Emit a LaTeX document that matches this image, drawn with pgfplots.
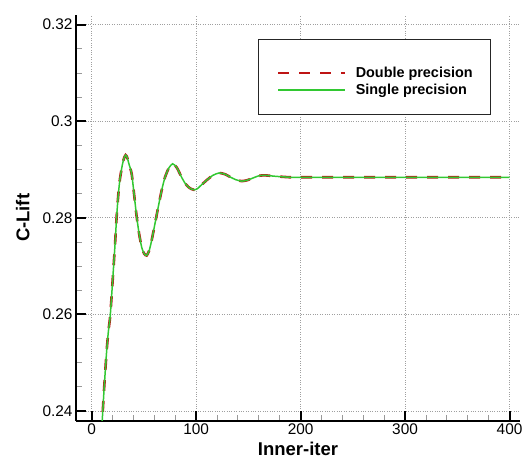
\documentclass[border=0pt]{standalone}
\usepackage{pgfplots}
\pgfplotsset{compat=1.18}
\usepackage{pgfplotstable}
\usepackage{fontspec}
\setmainfont{Liberation Sans}
\definecolor{dblred}{RGB}{190,20,20}
\definecolor{sglgreen}{RGB}{50,200,50}

\pgfplotstableread{
x y
9.0 0.2355
10.1 0.2381
12.1 0.2453
14.4 0.2526
16.0 0.2565
17.8 0.2598
20.1 0.2671
22.3 0.2743
23.9 0.2802
25.5 0.2848
27.1 0.2881
29.3 0.2909
30.9 0.2923
32.5 0.2930
34.0 0.2925
35.5 0.2913
38.3 0.2891
40.7 0.2847
43.1 0.2802
45.5 0.2766
47.9 0.2739
50.2 0.2726
52.6 0.2722
55.0 0.2732
57.4 0.2753
60.5 0.2787
63.7 0.2822
67.0 0.2857
70.2 0.2884
73.8 0.2903
77.5 0.2912
81.5 0.2904
86.1 0.2884
89.3 0.2872
92.5 0.2864
95.2 0.2860
97.9 0.2858
101.0 0.2860
104.0 0.2866
110.1 0.2878
116.0 0.2888
122.1 0.2893
128.0 0.2890
133.0 0.2884
138.0 0.2879
143.6 0.2876
149.0 0.2878
155.0 0.2883
160.0 0.2887
165.9 0.2888
176.0 0.2886
190.0 0.2884
200.0 0.2884
250.0 0.2884
300.0 0.2884
350.0 0.2884
400.0 0.2884
}\dbldata

\pgfplotstableread{
x y
9.0 0.2355
10.1 0.2381
12.1 0.2453
14.4 0.2526
16.0 0.2565
17.8 0.2598
20.1 0.2671
22.3 0.2743
23.9 0.2802
25.5 0.2848
27.1 0.2881
29.3 0.2909
30.9 0.2923
32.5 0.2930
34.0 0.2925
35.5 0.2913
38.3 0.2891
40.7 0.2847
43.1 0.2802
45.5 0.2766
47.9 0.2739
50.2 0.2726
52.6 0.2722
55.0 0.2732
57.4 0.2753
60.5 0.2787
63.7 0.2822
67.0 0.2857
70.2 0.2884
73.8 0.2903
77.5 0.2912
81.5 0.2904
86.1 0.2884
89.3 0.2872
92.5 0.2864
95.2 0.2860
97.9 0.2858
101.0 0.2860
104.0 0.2866
110.1 0.2878
116.0 0.2888
122.1 0.2893
128.0 0.2890
133.0 0.2884
138.0 0.2879
143.6 0.2876
149.0 0.2878
155.0 0.2883
160.0 0.2887
165.9 0.2888
176.0 0.2886
190.0 0.2884
200.0 0.2884
250.0 0.2884
300.0 0.2884
350.0 0.2884
400.0 0.2884
}\sgldata

\begin{document}
\begin{tikzpicture}
\path[use as bounding box] (0,0) rectangle (527bp,462bp);
\begin{axis}[
  at={(76bp,41.3bp)}, anchor=south west,
  scale only axis,
  width=444bp, height=405.7bp,
  xmin=-15, xmax=410,
  ymin=0.238, ymax=0.322,
  axis x line*=bottom, axis y line*=left,
  axis line style={line width=2bp, black},
  xtick={0,100,200,300,400},
  ytick={0.24,0.26,0.28,0.3,0.32},
  minor x tick num=4, minor y tick num=3,
  tick align=inside,
  major tick length=10bp, minor tick length=6bp,
  major tick style={line width=2bp, black},
  minor tick style={line width=0.9bp, gray!80},
  grid=major,
  major grid style={dotted, gray!75, line width=0.7bp},
  /pgf/number format/assume math mode=true,
  yticklabel style={/pgf/number format/fixed, /pgf/number format/precision=2},
  tick label style={font=\fontsize{15.4bp}{18bp}\selectfont},
  label style={font=\fontsize{18.5bp}{22bp}\selectfont\bfseries},
  xlabel={Inner-iter},
  ylabel={C-Lift},
  xlabel style={at={(axis description cs:0.5,-0.087)}, anchor=base},
  ylabel style={at={(axis description cs:-0.1052,0.5)}, anchor=base, rotate=0},
  legend image code/.code={\draw[#1] (0bp,0bp) -- (67bp,0bp);},
  legend cell align=left,
  legend style={at={(axis description cs:0.4527,0.8360)}, anchor=west,
    draw=none, fill=none, inner sep=0pt,
    font=\fontsize{14.4bp}{17bp}\selectfont\bfseries,
    nodes={inner sep=0pt, anchor=west},
    column sep=9bp, row sep=5.5bp},
]
\draw[black!85, line width=0.8bp, fill=white]
  (axis description cs:0.41,0.756) rectangle (axis description cs:0.934,0.940);
\addplot[dblred, line width=2.6bp, dash pattern=on 11bp off 10bp, smooth, tension=0.4, forget plot]
  table[x=x, y=y] {\dbldata};
\addplot[sglgreen, line width=1.5bp, smooth, tension=0.4, forget plot]
  table[x=x, y=y] {\sgldata};
\addlegendimage{dblred, line width=2.6bp, dash pattern=on 11bp off 10bp}
\addlegendentry{Double precision}
\addlegendimage{sglgreen, line width=1.5bp}
\addlegendentry{Single precision}
\end{axis}
\end{tikzpicture}
\end{document}
